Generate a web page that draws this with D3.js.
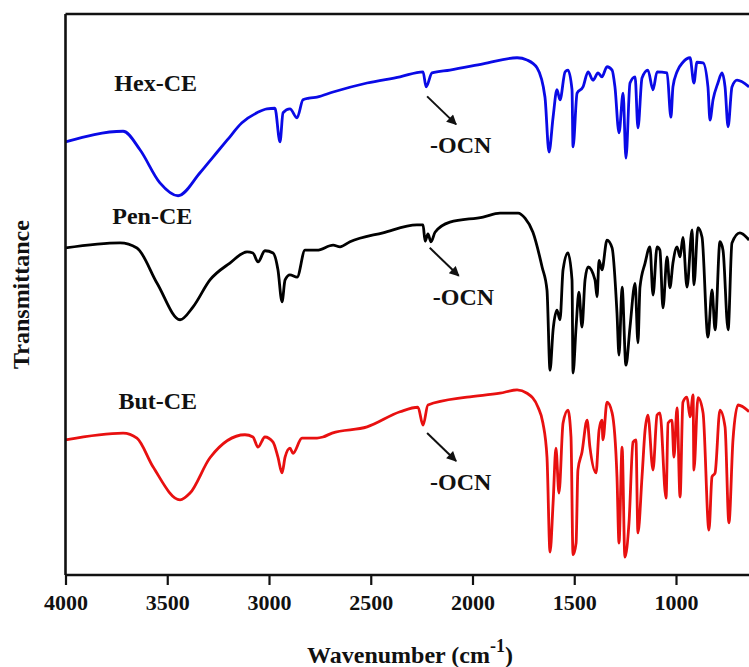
<!DOCTYPE html>
<html>
<head>
<meta charset="utf-8">
<script src="https://cdn.jsdelivr.net/npm/d3@7"></script>
<style>
  html, body { margin: 0; padding: 0; background: #fff; }
  svg { display: block; }
  .Graph__text { font-family: "Liberation Serif", "Times New Roman", serif; font-weight: bold; fill: #111; }
</style>
</head>
<body>
<div id="chart"></div>
<script>
// FTIR spectra, [wavenumber (cm-1), transmittance (a.u.)]
const hexCE = [
  [4000,77.2],[3717,79.1],[3634,75.8],[3536,69.9],[3447,67.6],[3339,71.7],[3275,74.5],[3206,77.5],
  [3133,80.6],[3059,82.4],[3010,83.1],[2971,83.2],[2946,77.2],[2931,82.4],[2897,83.1],[2862,81.5],
  [2833,84.7],[2803,85.0],[2764,85.2],[2685,86.1],[2518,87.7],[2356,88.8],[2243,89.7],[2228,87.0],
  [2199,89.5],[2111,90.0],[1948,91.1],[1781,92.2],[1732,91.8],[1683,90.4],[1644,85.2],[1624,75.4],
  [1604,81.6],[1585,86.5],[1570,84.7],[1545,89.7],[1531,90.0],[1511,86.5],[1506,76.3],[1486,85.9],
  [1457,87.0],[1432,89.7],[1408,88.2],[1383,89.5],[1364,88.8],[1339,90.6],[1314,90.0],[1300,87.0],
  [1280,78.8],[1260,85.9],[1246,74.3],[1226,87.7],[1201,88.8],[1187,79.7],[1167,88.6],[1138,90.0],
  [1113,86.5],[1093,89.7],[1044,89.5],[1025,81.6],[1015,87.0],[995,89.7],[966,91.4],[931,92.2],
  [912,87.7],[897,91.4],[867,91.3],[843,87.0],[833,81.1],[818,84.7],[794,87.7],[774,89.5],
  [759,87.0],[744,79.9],[725,87.0],[700,88.2],[641,87.0]
];

const penCE = [
  [4000,58.3],[3732,59.2],[3649,58.3],[3550,52.0],[3437,45.5],[3373,47.8],[3290,52.6],[3192,55.6],
  [3108,57.6],[3079,57.4],[3054,55.8],[3020,57.8],[2980,57.4],[2956,54.4],[2936,48.7],[2921,52.6],
  [2897,53.5],[2862,53.1],[2823,57.9],[2764,57.9],[2685,58.8],[2651,58.5],[2602,59.4],[2440,61.0],
  [2273,62.4],[2243,62.4],[2233,59.5],[2219,60.8],[2204,59.4],[2184,61.1],[2111,62.9],[1948,63.8],
  [1865,64.5],[1776,64.5],[1742,63.6],[1703,61.1],[1658,54.9],[1634,50.8],[1619,36.5],[1604,43.7],
  [1585,47.2],[1570,45.5],[1555,54.4],[1531,57.4],[1511,52.6],[1506,36.0],[1491,44.2],[1477,50.4],
  [1462,44.2],[1447,52.6],[1432,54.9],[1398,52.6],[1388,49.6],[1378,56.1],[1364,54.4],[1339,59.7],
  [1314,58.3],[1290,46.7],[1280,39.2],[1265,51.3],[1246,37.4],[1226,44.2],[1201,52.0],[1187,41.4],
  [1177,51.3],[1152,55.6],[1128,58.5],[1113,49.9],[1093,58.5],[1079,57.9],[1064,47.6],[1044,56.7],
  [1030,51.2],[1015,55.6],[995,58.5],[980,56.7],[966,60.2],[946,51.3],[921,61.5],[912,51.7],
  [892,61.9],[872,60.2],[843,42.4],[823,50.8],[808,43.7],[784,59.4],[769,57.9],[744,43.7],
  [725,59.2],[686,61.0],[641,59.7]
];

const butCE = [
  [4000,24.1],[3717,25.3],[3649,24.4],[3570,19.3],[3437,13.4],[3388,14.6],[3290,20.9],[3118,25.0],
  [3079,24.6],[3054,22.8],[3020,24.6],[2980,23.7],[2956,21.0],[2936,18.2],[2921,21.0],[2897,22.6],
  [2882,21.7],[2838,24.4],[2764,24.4],[2735,24.6],[2690,25.3],[2518,26.4],[2356,29.1],
  [2268,29.9],[2243,26.7],[2219,30.3],[2027,31.7],[1865,32.4],[1781,33.0],[1732,32.4],[1678,29.9],
  [1654,27.1],[1634,21.0],[1619,4.1],[1604,12.8],[1590,22.6],[1575,14.6],[1555,27.1],[1531,29.4],
  [1516,24.6],[1506,3.6],[1491,5.7],[1482,18.7],[1462,21.9],[1437,27.6],[1423,22.8],[1393,18.2],
  [1378,25.8],[1364,27.6],[1359,24.1],[1339,30.8],[1314,28.9],[1290,17.5],[1280,5.7],[1265,22.8],
  [1251,3.2],[1231,9.3],[1211,23.7],[1197,24.1],[1187,7.5],[1167,17.5],[1152,25.8],[1138,28.5],
  [1113,18.7],[1093,28.5],[1079,28.9],[1049,13.7],[1039,27.1],[1020,27.6],[1010,21.0],[995,29.8],
  [980,13.9],[966,30.8],[946,31.7],[931,28.2],[916,32.1],[912,18.7],[892,31.6],[867,28.9],
  [838,8.0],[823,17.5],[808,18.2],[784,29.4],[759,26.4],[740,9.3],[720,24.1],[695,30.3],[641,29.1]
];

const seriesNames = ["Hex-CE", "Pen-CE", "But-CE"];
const seriesColors = ["#0a0ae6", "#000000", "#e81010"];
const xTicks = [4000, 3500, 3000, 2500, 2000, 1500, 1000];
// label anchor (wavenumber, transmittance) and -OCN dip (wavenumber, transmittance)
const nameAnchors = [[3760, 86.3], [3770, 62.5], [3740, 29.6]];
const ocnDips = [[2228, 85.5], [2215, 58.5], [2228, 25.5]];

const W = 749, H = 667;
const margin = { left: 65.5, top: 14, bottom: 92 };

const x = d3.scaleLinear()
  .domain([4000, 400])
  .range([margin.left, margin.left + 3600 * 0.2035]);

const y = d3.scaleLinear()
  .domain([0, 100])
  .range([H - margin.bottom, margin.top]);

const svg = d3.select("#chart")
  .append("svg")
  .attr("width", W)
  .attr("height", H)
  .attr("viewBox", "0 0 " + W + " " + H);

const defs = svg.append("defs");
defs.append("clipPath")
  .attr("id", "plotClip")
  .append("rect")
  .attr("x", margin.left)
  .attr("y", margin.top - 5)
  .attr("width", W - margin.left)
  .attr("height", y(0) - margin.top + 10);

defs.append("marker")
  .attr("id", "arrowHead")
  .attr("viewBox", "0 0 10 10")
  .attr("refX", 9)
  .attr("refY", 5)
  .attr("markerWidth", 6)
  .attr("markerHeight", 5)
  .attr("orient", "auto")
  .append("path")
  .attr("d", "M0,0 L10,5 L0,10 z")
  .attr("fill", "#111");

const line = d3.line()
  .x(d => x(d[0]))
  .y(d => y(d[1]))
  .curve(d3.curveMonotoneX);

const plot = svg.append("g").attr("clip-path", "url(#plotClip)");

[hexCE, penCE, butCE].forEach((data, i) => {
  plot.append("path")
    .datum(data)
    .attr("fill", "none")
    .attr("stroke", seriesColors[i])
    .attr("stroke-width", 2.8)
    .attr("stroke-linejoin", "round")
    .attr("d", line);
});

// frame: top and left lines (right side runs off the picture)
svg.append("line")
  .attr("x1", margin.left).attr("y1", margin.top)
  .attr("x2", W).attr("y2", margin.top)
  .attr("stroke", "#111").attr("stroke-width", 2.6);
svg.append("line")
  .attr("x1", margin.left).attr("y1", margin.top)
  .attr("x2", margin.left).attr("y2", y(0))
  .attr("stroke", "#111").attr("stroke-width", 2.6);

const xAxis = svg.append("g")
  .attr("transform", "translate(0," + y(0) + ")")
  .call(d3.axisBottom(x).tickValues(xTicks).tickSize(10).tickPadding(9).tickFormat(d3.format("d")));

xAxis.select(".domain")
  .attr("d", "M" + margin.left + ",0H" + W)
  .attr("stroke", "#111")
  .attr("stroke-width", 2.6);
xAxis.selectAll(".tick line").attr("stroke", "#111").attr("stroke-width", 2.2);
xAxis.selectAll(".tick text")
  .attr("class", "Graph__text")
  .style("font-size", "22px")
  .attr("fill", "#111");

// series labels
seriesNames.forEach((name, i) => {
  svg.append("text")
    .attr("class", "Graph__text")
    .attr("x", x(nameAnchors[i][0]))
    .attr("y", y(nameAnchors[i][1]))
    .style("font-size", "24px")
    .text(name);
});

// -OCN arrows and labels
ocnDips.forEach((d, i) => {
  const x0 = x(d[0]), y0 = y(d[1]);
  svg.append("line")
    .attr("x1", x0 + 1).attr("y1", y0 + 1)
    .attr("x2", x0 + 30).attr("y2", y0 + 29)
    .attr("stroke", "#111")
    .attr("stroke-width", 2)
    .attr("marker-end", "url(#arrowHead)");
  svg.append("text")
    .attr("class", "Graph__text")
    .attr("x", x0 + 4)
    .attr("y", y0 + 58)
    .style("font-size", "24px")
    .text("-OCN");
});

// axis titles
const xTitle = svg.append("text")
  .attr("class", "Graph__text")
  .attr("x", 410)
  .attr("y", 663)
  .attr("text-anchor", "middle")
  .style("font-size", "24px");
xTitle.append("tspan").text("Wavenumber (cm");
xTitle.append("tspan").attr("dy", -11).style("font-size", "18px").text("-1");
xTitle.append("tspan").attr("dy", 11).text(")");

svg.append("text")
  .attr("class", "Graph__text")
  .attr("transform", "translate(29," + ((margin.top + y(0)) / 2) + ") rotate(-90)")
  .attr("text-anchor", "middle")
  .style("font-size", "24px")
  .text("Transmittance");
</script>
</body>
</html>
